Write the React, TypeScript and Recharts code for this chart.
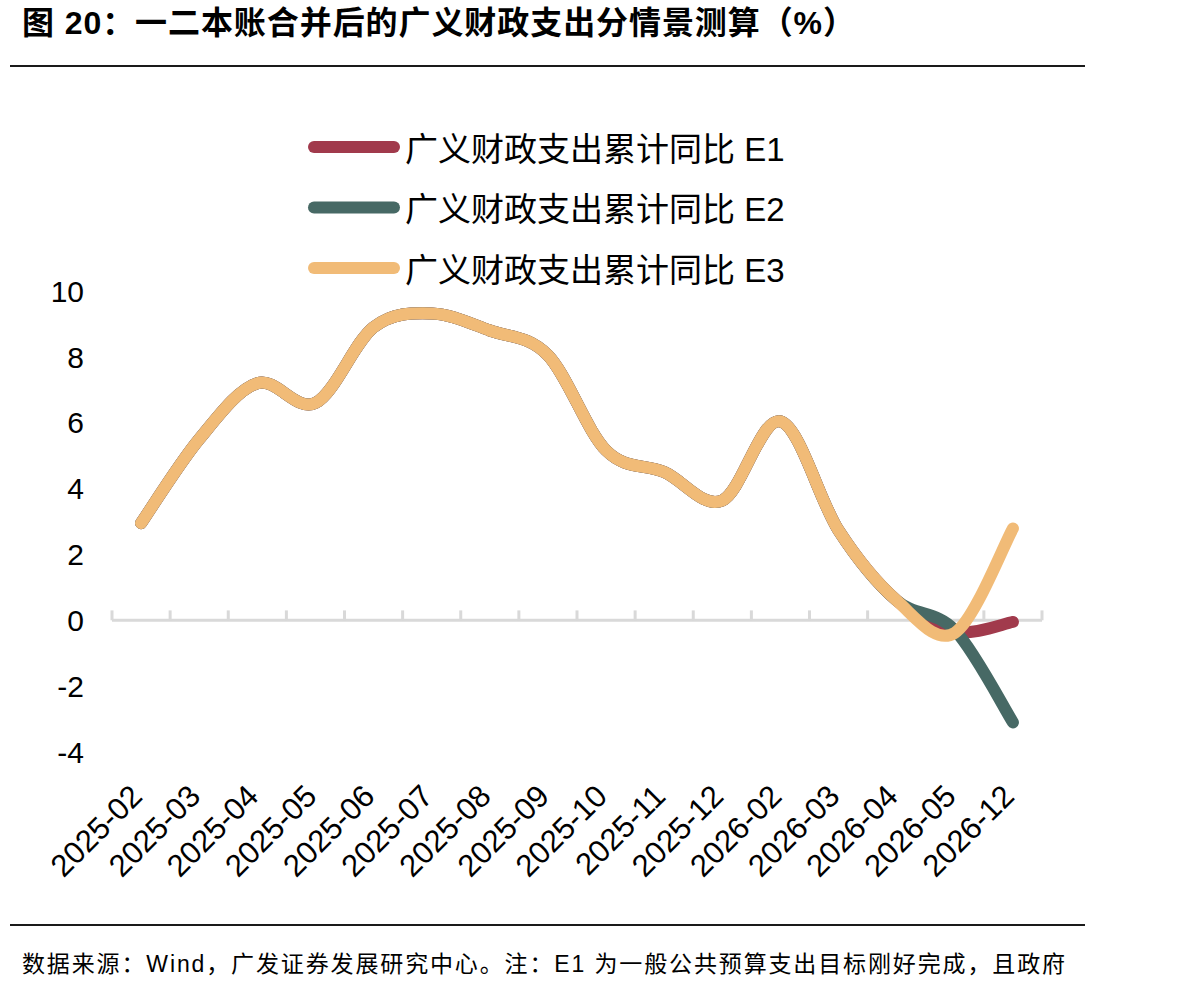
import React from "react";
import { LineChart, Line, XAxis, YAxis, ReferenceLine } from "recharts";

const months = [
  "2025-02", "2025-03", "2025-04", "2025-05", "2025-06", "2025-07", "2025-08", "2025-09",
  "2025-10", "2025-11", "2025-12", "2026-02", "2026-03", "2026-04", "2026-05", "2026-12",
];
const e1 = [2.95, 5.5, 7.2, 6.6, 8.9, 9.32, 8.8, 8.05, 5.16, 4.5, 3.64, 6.04, 2.73, 0.6, -0.35, -0.05];
const e2 = [2.95, 5.5, 7.2, 6.6, 8.9, 9.32, 8.8, 8.05, 5.16, 4.5, 3.64, 6.04, 2.73, 0.6, -0.3, -3.1];
const e3 = [2.95, 5.5, 7.2, 6.6, 8.9, 9.32, 8.8, 8.05, 5.16, 4.5, 3.64, 6.04, 2.73, 0.6, -0.38, 2.79];

const seriesNames = ["广义财政支出累计同比 E1", "广义财政支出累计同比 E2", "广义财政支出累计同比 E3"];
const seriesColors = ["#A13A4C", "#476965", "#F1BB77"];
const yTicks = [-4, -2, 0, 2, 4, 6, 8, 10];

const data = months.map((m, i) => ({ idx: i, e1: e1[i], e2: e2[i], e3: e3[i] }));
const xTicks = months.map((_, i) => i);
const bandEdges = [...xTicks.map((i) => i - 0.5), months.length - 0.5];

const FONT = '"Liberation Sans", Arial, "Noto Sans CJK SC", sans-serif';

// smooth curve through every point (catmull-rom style, like office charts)
function smoothCurve(context: any) {
  let pts: [number, number][] = [];
  return {
    areaStart() {},
    areaEnd() {},
    lineStart() { pts = []; },
    point(x: number, y: number) { pts.push([+x, +y]); },
    lineEnd() {
      if (!pts.length) return;
      context.moveTo(pts[0][0], pts[0][1]);
      for (let i = 0; i < pts.length - 1; i++) {
        const p0 = pts[i - 1] ?? pts[i];
        const p1 = pts[i];
        const p2 = pts[i + 1];
        const p3 = pts[i + 2] ?? p2;
        context.bezierCurveTo(
          p1[0] + (p2[0] - p0[0]) / 6, p1[1] + (p2[1] - p0[1]) / 6,
          p2[0] - (p3[0] - p1[0]) / 6, p2[1] - (p3[1] - p1[1]) / 6,
          p2[0], p2[1],
        );
      }
    },
  };
}

function MonthTick({ x, y, payload }: any) {
  const ax = x + 3;
  const ay = y + 38;
  return (
    <text x={ax} y={ay} textAnchor="end" transform={`rotate(-45 ${ax} ${ay})`}
      fontSize={31} fill="#000" fontFamily={FONT}>
      {months[payload.value]}
    </text>
  );
}

export default function App() {
  const keys = ["e1", "e2", "e3"];
  return (
    <div style={{ position: "absolute", left: 0, top: 0, width: 1186, height: 993, background: "#fff" }}>
      <svg width={1186} height={993} style={{ position: "absolute", left: 0, top: 0 }}>
        <text x={22} y={23} dominantBaseline="central" fontSize={32} fontWeight={700}
          fontFamily={FONT} fill="#000" textLength={833} lengthAdjust="spacing">
          图 20：一二本账合并后的广义财政支出分情景测算（%）
        </text>
        <line x1={10} x2={1085} y1={66} y2={66} stroke="#1a1a1a" strokeWidth={2} />
        <line x1={10} x2={1085} y1={925} y2={925} stroke="#1a1a1a" strokeWidth={2} />
        <text x={22} y={964} dominantBaseline="central" fontSize={23} fontFamily={FONT}
          fill="#000" textLength={1043} lengthAdjust="spacing">
          数据来源：Wind，广发证券发展研究中心。注：E1 为一般公共预算支出目标刚好完成，且政府
        </text>
        {seriesNames.map((name, i) => (
          <g key={name}>
            <line x1={314} x2={394} y1={147 + i * 60.5} y2={147 + i * 60.5}
              stroke={seriesColors[i]} strokeWidth={12} strokeLinecap="round" />
            <text x={405} y={149 + i * 60.5} dominantBaseline="central" fontSize={33}
              fontFamily={FONT} fill="#000">
              {name}
            </text>
          </g>
        ))}
      </svg>
      <div style={{ position: "absolute", left: 0, top: 0 }}>
        <LineChart width={1186} height={993} data={data}
          margin={{ top: 291, right: 144, bottom: 121, left: 32 }}>
          <XAxis dataKey="idx" type="number" domain={[-0.5, months.length - 0.5]} ticks={xTicks}
            interval={0} axisLine={false} tickLine={false} height={120} tick={<MonthTick />} />
          <YAxis type="number" domain={[-4, 10]} ticks={yTicks} interval={0} width={80}
            axisLine={false} tickLine={false} tickMargin={22}
            tick={{ fontSize: 30, fill: "#000", fontFamily: FONT }} />
          <ReferenceLine y={0} stroke="#D9D9D9" strokeWidth={3} />
          {bandEdges.map((e) => (
            <ReferenceLine key={e} segment={[{ x: e, y: 0 }, { x: e, y: 0.3 }]}
              stroke="#D9D9D9" strokeWidth={3} />
          ))}
          {keys.map((k, i) => (
            <Line key={k} dataKey={k} name={seriesNames[i]} type={smoothCurve as any}
              stroke={seriesColors[i]} strokeWidth={12} strokeLinecap="round"
              dot={false} activeDot={false} isAnimationActive={false} />
          ))}
        </LineChart>
      </div>
    </div>
  );
}
